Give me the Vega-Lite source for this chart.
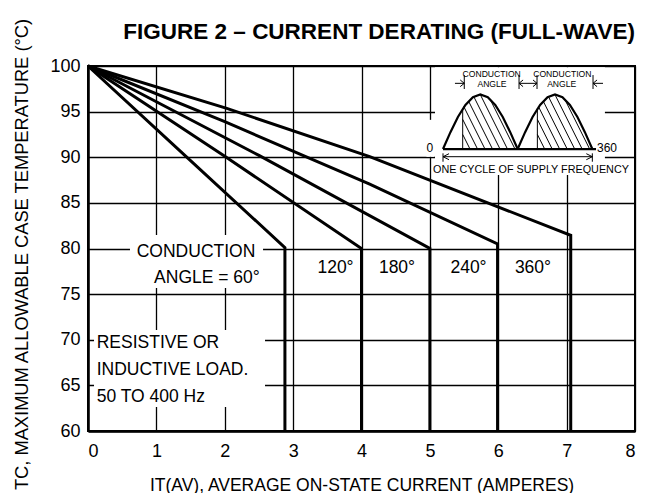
{
  "$schema": "https://vega.github.io/schema/vega-lite/v6.json",
  "width": 547,
  "height": 365,
  "autosize": {"type": "none"},
  "padding": {"left": 88, "top": 66, "right": 14, "bottom": 62},
  "background": "white",
  "title": {"text": "FIGURE 2 – CURRENT DERATING (FULL-WAVE)", "anchor": "end", "frame": "group", "fontSize": 22.5, "fontWeight": "bold", "font": "Liberation Sans", "color": "black", "offset": 25, "baseline": "alphabetic", "dy": 69},
  "config": {
    "view": {"stroke": "black", "strokeWidth": 2},
    "axis": {
      "grid": true, "gridColor": "black", "gridWidth": 1.3, "gridOpacity": 1,
      "domain": true, "domainColor": "black", "domainWidth": 2.5,
      "ticks": false, "tickSize": 0,
      "labelFont": "Liberation Sans", "labelFontSize": 18, "labelColor": "black",
      "titleFont": "Liberation Sans", "titleFontWeight": "normal", "titleColor": "black"
    }
  },
  "datasets": {
    "curves": [
      {"angle": "60", "i": 0, "x": 0, "y": 100},
      {"angle": "60", "i": 1, "x": 1.44, "y": 90.05},
      {"angle": "60", "i": 2, "x": 2.88, "y": 80.1},
      {"angle": "60", "i": 3, "x": 2.88, "y": 60},
      {"angle": "120", "i": 0, "x": 0, "y": 100},
      {"angle": "120", "i": 1, "x": 2.0, "y": 90.1},
      {"angle": "120", "i": 2, "x": 4.0, "y": 80.0},
      {"angle": "120", "i": 3, "x": 4.0, "y": 60},
      {"angle": "180", "i": 0, "x": 0, "y": 100},
      {"angle": "180", "i": 1, "x": 2.5, "y": 90.2},
      {"angle": "180", "i": 2, "x": 5.0, "y": 80.0},
      {"angle": "180", "i": 3, "x": 5.0, "y": 60},
      {"angle": "240", "i": 0, "x": 0, "y": 100},
      {"angle": "240", "i": 1, "x": 2.0, "y": 93.9},
      {"angle": "240", "i": 2, "x": 4.12, "y": 87.05},
      {"angle": "240", "i": 3, "x": 5.99, "y": 80.5},
      {"angle": "240", "i": 4, "x": 5.99, "y": 60},
      {"angle": "360", "i": 0, "x": 0, "y": 100},
      {"angle": "360", "i": 1, "x": 2.03, "y": 95.36},
      {"angle": "360", "i": 2, "x": 4.12, "y": 90.06},
      {"angle": "360", "i": 3, "x": 7.06, "y": 81.45},
      {"angle": "360", "i": 4, "x": 7.06, "y": 60}
    ],
    "bg": [
      {"x": 0.614, "x2": 2.56, "y": 81.48, "y2": 75.67},
      {"x": 0.088, "x2": 2.589, "y": 71.07, "y2": 62.63},
      {"x": 5.075, "x2": 7.56, "y": 99.85, "y2": 88.05},
      {"x": 4.95, "x2": 5.06, "y": 94.1, "y2": 90.05}
    ],
    "humps": [
      {"hump": "1", "x": 5.192, "y": 90.90}, {"hump": "1", "x": 5.301, "y": 92.75}, {"hump": "1", "x": 5.410, "y": 94.42},
      {"hump": "1", "x": 5.520, "y": 95.74}, {"hump": "1", "x": 5.629, "y": 96.59}, {"hump": "1", "x": 5.738, "y": 96.88},
      {"hump": "1", "x": 5.847, "y": 96.59}, {"hump": "1", "x": 5.956, "y": 95.74}, {"hump": "1", "x": 6.066, "y": 94.42},
      {"hump": "1", "x": 6.175, "y": 92.75}, {"hump": "1", "x": 6.284, "y": 90.90},
      {"hump": "2", "x": 6.284, "y": 90.90}, {"hump": "2", "x": 6.393, "y": 92.75}, {"hump": "2", "x": 6.502, "y": 94.42},
      {"hump": "2", "x": 6.612, "y": 95.74}, {"hump": "2", "x": 6.721, "y": 96.59}, {"hump": "2", "x": 6.830, "y": 96.88},
      {"hump": "2", "x": 6.939, "y": 96.59}, {"hump": "2", "x": 7.048, "y": 95.74}, {"hump": "2", "x": 7.158, "y": 94.42},
      {"hump": "2", "x": 7.267, "y": 92.75}, {"hump": "2", "x": 7.376, "y": 90.90}
    ],
    "segs": [
      {"part": "thick", "x": 5.192, "y": 90.9, "x2": 7.43, "y2": 90.9},
      {"part": "thin", "x": 5.480, "y": 90.9, "x2": 5.480, "y2": 95.36},
      {"part": "thin", "x": 6.572, "y": 90.9, "x2": 6.572, "y2": 95.36},
      {"part": "thin", "x": 5.587, "y": 90.9, "x2": 5.480, "y2": 92.50},
      {"part": "thin", "x": 5.697, "y": 90.9, "x2": 5.480, "y2": 94.15},
      {"part": "thin", "x": 5.806, "y": 90.9, "x2": 5.496, "y2": 95.55},
      {"part": "thin", "x": 5.916, "y": 90.9, "x2": 5.565, "y2": 96.16},
      {"part": "thin", "x": 6.026, "y": 90.9, "x2": 5.642, "y2": 96.65},
      {"part": "thin", "x": 6.135, "y": 90.9, "x2": 5.737, "y2": 96.87},
      {"part": "thin", "x": 6.245, "y": 90.9, "x2": 5.879, "y2": 96.38},
      {"part": "thin", "x": 6.679, "y": 90.9, "x2": 6.572, "y2": 92.50},
      {"part": "thin", "x": 6.789, "y": 90.9, "x2": 6.572, "y2": 94.15},
      {"part": "thin", "x": 6.898, "y": 90.9, "x2": 6.588, "y2": 95.55},
      {"part": "thin", "x": 7.008, "y": 90.9, "x2": 6.657, "y2": 96.16},
      {"part": "thin", "x": 7.118, "y": 90.9, "x2": 6.734, "y2": 96.65},
      {"part": "thin", "x": 7.227, "y": 90.9, "x2": 6.829, "y2": 96.87},
      {"part": "thin", "x": 7.337, "y": 90.9, "x2": 6.971, "y2": 96.38},
      {"part": "thin", "x": 5.367, "y": 98.10, "x2": 5.503, "y2": 98.10},
      {"part": "thin", "x": 5.444, "y": 98.47, "x2": 5.503, "y2": 98.10},
      {"part": "thin", "x": 5.444, "y": 97.74, "x2": 5.503, "y2": 98.10},
      {"part": "thin", "x": 5.503, "y": 97.48, "x2": 5.503, "y2": 99.01},
      {"part": "thin", "x": 6.304, "y": 97.48, "x2": 6.304, "y2": 99.01},
      {"part": "thin", "x": 6.304, "y": 98.10, "x2": 6.435, "y2": 98.10},
      {"part": "thin", "x": 6.363, "y": 98.47, "x2": 6.304, "y2": 98.10},
      {"part": "thin", "x": 6.363, "y": 97.74, "x2": 6.304, "y2": 98.10},
      {"part": "thin", "x": 6.435, "y": 98.10, "x2": 6.567, "y2": 98.10},
      {"part": "thin", "x": 6.508, "y": 98.47, "x2": 6.567, "y2": 98.10},
      {"part": "thin", "x": 6.508, "y": 97.74, "x2": 6.567, "y2": 98.10},
      {"part": "thin", "x": 6.567, "y": 97.48, "x2": 6.567, "y2": 99.01},
      {"part": "thin", "x": 7.386, "y": 97.48, "x2": 7.386, "y2": 99.01},
      {"part": "thin", "x": 7.386, "y": 98.10, "x2": 7.532, "y2": 98.10},
      {"part": "thin", "x": 7.445, "y": 98.47, "x2": 7.386, "y2": 98.10},
      {"part": "thin", "x": 7.445, "y": 97.74, "x2": 7.386, "y2": 98.10},
      {"part": "thin", "x": 5.192, "y": 90.06, "x2": 7.376, "y2": 90.06},
      {"part": "thin", "x": 5.280, "y": 90.39, "x2": 5.192, "y2": 90.06},
      {"part": "thin", "x": 5.280, "y": 89.73, "x2": 5.192, "y2": 90.06},
      {"part": "thin", "x": 5.192, "y": 89.51, "x2": 5.192, "y2": 90.43},
      {"part": "thin", "x": 7.288, "y": 90.39, "x2": 7.376, "y2": 90.06},
      {"part": "thin", "x": 7.288, "y": 89.73, "x2": 7.376, "y2": 90.06},
      {"part": "thin", "x": 7.376, "y": 89.51, "x2": 7.376, "y2": 90.43}
    ],
    "labelsCenter": [
      {"text": "CONDUCTION", "x": 1.58, "y": 79.10},
      {"text": "ANGLE = 60°", "x": 1.74, "y": 76.19},
      {"text": "120°", "x": 3.62, "y": 77.35},
      {"text": "180°", "x": 4.519, "y": 77.35},
      {"text": "240°", "x": 5.565, "y": 77.35},
      {"text": "360°", "x": 6.508, "y": 77.35}
    ],
    "labelsLeft": [
      {"text": "RESISTIVE OR", "x": 0.127, "y": 69.10},
      {"text": "INDUCTIVE LOAD.", "x": 0.127, "y": 66.14},
      {"text": "50 TO 400 Hz", "x": 0.127, "y": 63.21}
    ],
    "insetText": [
      {"text": "CONDUCTION", "x": 5.904, "y": 98.76},
      {"text": "ANGLE", "x": 5.908, "y": 97.66},
      {"text": "CONDUCTION", "x": 6.937, "y": 98.76},
      {"text": "ANGLE", "x": 6.928, "y": 97.66}
    ],
    "insetText2": [
      {"text": "ONE CYCLE OF SUPPLY FREQUENCY", "x": 6.479, "y": 88.31}
    ],
    "insetNum": [
      {"text": "0", "x": 5.0, "y": 90.58}
    ],
    "insetNumL": [
      {"text": "360", "x": 7.444, "y": 90.58}
    ]
  },
  "layer": [
    {
      "data": {"name": "bg"},
      "mark": {"type": "rect", "fill": "white", "strokeWidth": 0},
      "encoding": {
        "x": {"field": "x", "type": "quantitative"},
        "x2": {"field": "x2"},
        "y": {"field": "y", "type": "quantitative"},
        "y2": {"field": "y2"}
      }
    },
    {
      "data": {"name": "curves"},
      "mark": {"type": "line", "color": "black", "strokeWidth": 3, "strokeJoin": "miter"},
      "encoding": {
        "x": {"field": "x", "type": "quantitative",
              "scale": {"domain": [0, 8], "nice": false, "zero": false},
              "axis": {"values": [0, 1, 2, 3, 4, 5, 6, 7, 8], "format": "d", "labelPadding": 25, "labelBaseline": "alphabetic",
                       "title": "IT(AV), AVERAGE ON-STATE CURRENT (AMPERES)", "titleFontSize": 17.5,
                       "titleBaseline": "alphabetic", "titleY": 59}},
        "y": {"field": "y", "type": "quantitative",
              "scale": {"domain": [60, 100], "nice": false, "zero": false},
              "axis": {"values": [60, 65, 70, 75, 80, 85, 90, 95, 100], "format": "d", "labelPadding": 8,
                       "title": "TC, MAXIMUM ALLOWABLE CASE TEMPERATURE (°C)", "titleFontSize": 18.3,
                       "titleBaseline": "alphabetic", "titleX": -60.5, "titleY": 188}},
        "detail": {"field": "angle"},
        "order": {"field": "i", "type": "quantitative"}
      }
    },
    {
      "data": {"name": "humps"},
      "mark": {"type": "line", "color": "black", "strokeWidth": 2.2},
      "encoding": {
        "x": {"field": "x", "type": "quantitative"},
        "y": {"field": "y", "type": "quantitative"},
        "detail": {"field": "hump"}
      }
    },
    {
      "data": {"name": "segs"},
      "transform": [{"filter": "datum.part === 'thick'"}],
      "mark": {"type": "rule", "color": "black", "strokeWidth": 2.2},
      "encoding": {
        "x": {"field": "x", "type": "quantitative"},
        "y": {"field": "y", "type": "quantitative"},
        "x2": {"field": "x2"},
        "y2": {"field": "y2"}
      }
    },
    {
      "data": {"name": "segs"},
      "transform": [{"filter": "datum.part === 'thin'"}],
      "mark": {"type": "rule", "color": "black", "strokeWidth": 1},
      "encoding": {
        "x": {"field": "x", "type": "quantitative"},
        "y": {"field": "y", "type": "quantitative"},
        "x2": {"field": "x2"},
        "y2": {"field": "y2"}
      }
    },
    {
      "data": {"name": "labelsCenter"},
      "mark": {"type": "text", "font": "Liberation Sans", "fontSize": 17.5, "color": "black", "align": "center", "baseline": "alphabetic"},
      "encoding": {
        "x": {"field": "x", "type": "quantitative"},
        "y": {"field": "y", "type": "quantitative"},
        "text": {"field": "text"}
      }
    },
    {
      "data": {"name": "labelsLeft"},
      "mark": {"type": "text", "font": "Liberation Sans", "fontSize": 17.5, "color": "black", "align": "left", "baseline": "alphabetic"},
      "encoding": {
        "x": {"field": "x", "type": "quantitative"},
        "y": {"field": "y", "type": "quantitative"},
        "text": {"field": "text"}
      }
    },
    {
      "data": {"name": "insetText"},
      "mark": {"type": "text", "font": "Liberation Sans", "fontSize": 8.6, "color": "black", "align": "center", "baseline": "alphabetic"},
      "encoding": {
        "x": {"field": "x", "type": "quantitative"},
        "y": {"field": "y", "type": "quantitative"},
        "text": {"field": "text"}
      }
    },
    {
      "data": {"name": "insetText2"},
      "mark": {"type": "text", "font": "Liberation Sans", "fontSize": 10.8, "color": "black", "align": "center", "baseline": "alphabetic"},
      "encoding": {
        "x": {"field": "x", "type": "quantitative"},
        "y": {"field": "y", "type": "quantitative"},
        "text": {"field": "text"}
      }
    },
    {
      "data": {"name": "insetNum"},
      "mark": {"type": "text", "font": "Liberation Sans", "fontSize": 12, "color": "black", "align": "center", "baseline": "alphabetic"},
      "encoding": {
        "x": {"field": "x", "type": "quantitative"},
        "y": {"field": "y", "type": "quantitative"},
        "text": {"field": "text"}
      }
    },
    {
      "data": {"name": "insetNumL"},
      "mark": {"type": "text", "font": "Liberation Sans", "fontSize": 12, "color": "black", "align": "left", "baseline": "alphabetic"},
      "encoding": {
        "x": {"field": "x", "type": "quantitative"},
        "y": {"field": "y", "type": "quantitative"},
        "text": {"field": "text"}
      }
    }
  ]
}
